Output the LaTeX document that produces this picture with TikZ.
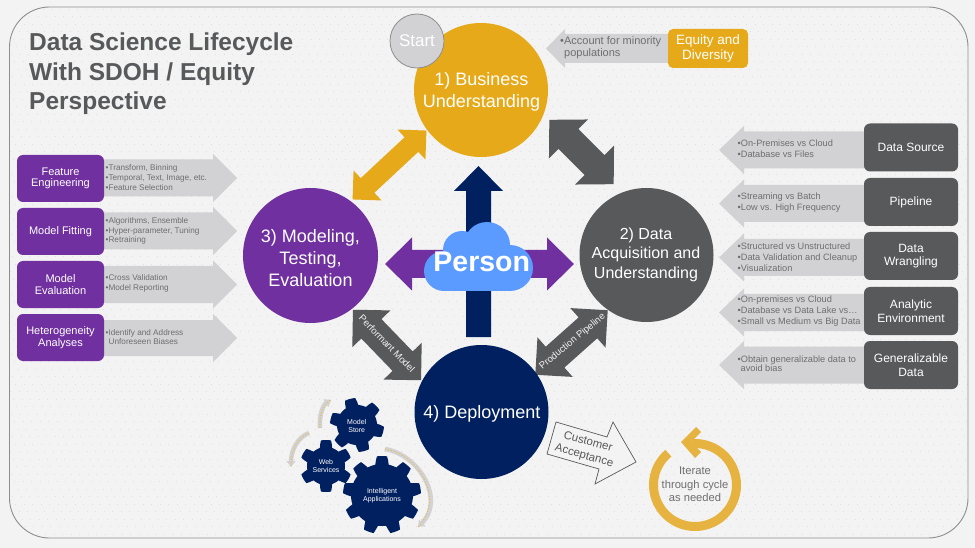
\documentclass[tikz,border=0pt]{standalone}
\usepackage{fontspec}
\setmainfont{Liberation Sans}
\usetikzlibrary{arrows.meta}
\definecolor{bgc}{HTML}{F3F3F3}
\definecolor{framec}{HTML}{8E8E92}
\definecolor{goldc}{HTML}{E6A919}
\definecolor{purc}{HTML}{7030A0}
\definecolor{grayc}{HTML}{58595B}
\definecolor{navyc}{HTML}{002060}
\definecolor{lightc}{HTML}{D2D1D3}
\definecolor{txtc}{HTML}{6E6E70}
\definecolor{cloudc}{HTML}{5B9BFF}
\definecolor{ringc}{HTML}{E6B340}
\newcommand{\fs}[2]{\fontsize{#1}{#2}\selectfont}
% colour, cx, cy, angle, length, shaft width, head width, head length
\newcommand{\dblarrow}[8]{\begin{scope}[shift={(#2,#3)},rotate=#4]
\pgfmathsetmacro{\hl}{#5/2}\pgfmathsetmacro{\sx}{\hl-#8}\pgfmathsetmacro{\sy}{#6/2}\pgfmathsetmacro{\hy}{#7/2}
\fill[#1] (\hl,0) -- (\sx,\hy) -- (\sx,\sy) -- (-\sx,\sy) -- (-\sx,\hy) -- (-\hl,0) -- (-\sx,-\hy) -- (-\sx,-\sy) -- (\sx,-\sy) -- (\sx,-\hy) -- cycle;
\end{scope}}
\newcommand{\onearrow}[8]{\begin{scope}[shift={(#2,#3)},rotate=#4]
\pgfmathsetmacro{\hl}{#5/2}\pgfmathsetmacro{\sx}{\hl-#8}\pgfmathsetmacro{\sy}{#6/2}\pgfmathsetmacro{\hy}{#7/2}
\fill[#1] (\hl,0) -- (\sx,\hy) -- (\sx,\sy) -- (-\hl,\sy) -- (-\hl,-\sy) -- (\sx,-\sy) -- (\sx,-\hy) -- cycle;
\end{scope}}
\tikzset{
  stage/.style={circle,inner sep=0pt,minimum size=134pt},
  stagetext/.style={text=white,align=center,inner sep=0pt,font=\fs{18}{22}},
  purbox/.style={rectangle,rounded corners=6pt,fill=purc,text=white,align=center,inner sep=0pt,minimum width=87pt,minimum height=47pt,font=\fs{11}{11.5}},
  graybox/.style={rectangle,rounded corners=6pt,fill=grayc,text=white,align=center,inner sep=0pt,minimum width=94pt,minimum height=48pt,font=\fs{12}{13.5}},
  lefttext/.style={anchor=west,align=left,inner sep=0pt,text=txtc,font=\fs{8.2}{9.8}},
  righttext/.style={anchor=west,align=left,inner sep=0pt,text=txtc,font=\fs{9.2}{11}},
  linktext/.style={text=bgc,inner sep=0pt,font=\fs{9.5}{10}},
  geartext/.style={text=white,align=center,inner sep=0pt,font=\fs{7}{8}},
  swoosh/.style={line width=4.5pt,draw=lightc,-{Triangle[length=6pt,width=9pt,fill=lightc]}},
  swooshdots/.style={line width=1pt,draw=goldc!80!white,dash pattern=on 1pt off 2pt},
  declare function={gr(\a,\N,\ri,\ro,\ph)=\ri+(\ro-\ri)*max(0,min(1,0.5+1.3*cos(\N*(\a-\ph))));}
}
\newcommand{\gearfill}[6]{\fill[navyc] plot[domain=0:360,samples=#3*16+1] ({#1+gr(\x,#3,#4,#5,#6)*cos(\x)},{#2+gr(\x,#3,#4,#5,#6)*sin(\x)}) -- cycle;}
\begin{document}
\begin{tikzpicture}[x=1pt,y=-1pt]
\useasboundingbox (0,0) rectangle (975,548);
\fill[bgc] (0,0) rectangle (975,548);
% frame and faint texture
\begin{scope}
\clip[rounded corners=40pt] (9.5,7) rectangle (968,538);
\foreach \r [evaluate=\r as \xs using {9+mod(\r*3,8)}, evaluate=\r as \ys using {9+7.5*\r}] in {0,...,70}
  \draw[line width=.9pt,draw=black!12,dash pattern=on .9pt off 7.6pt] (\xs,\ys) -- (968,\ys);
\end{scope}
\draw[framec,line width=.9pt,rounded corners=40pt] (9.5,7) rectangle (968,538);
% title
\node[anchor=north west,align=left,inner sep=0pt,text=grayc,font=\fs{24.5}{29.5}\bfseries] (title) at (29,33) {Data Science Lifecycle\\With SDOH / Equity\\Perspective};
% left arrows and boxes
\onearrow{lightc}{168.5}{178}{0}{137}{37}{48}{24}
\onearrow{lightc}{168.5}{231}{0}{137}{37}{48}{24}
\onearrow{lightc}{168.5}{284.5}{0}{137}{37}{48}{24}
\onearrow{lightc}{168.5}{338}{0}{137}{36}{48}{24}
\node[purbox] (fe) at (60.5,178.5) {Feature\\Engineering};
\node[purbox] (mf) at (60.5,231.5) {Model Fitting};
\node[purbox] (me) at (60.5,284.5) {Model\\Evaluation};
\node[purbox] (ha) at (60.5,337.5) {Heterogeneity\\Analyses};
\node[lefttext] (tfe) at (105.5,177.5) {•Transform, Binning\\•Temporal, Text, Image, etc.\\•Feature Selection};
\node[lefttext] (tmf) at (105.5,231) {•Algorithms, Ensemble\\•Hyper-parameter, Tuning\\•Retraining};
\node[lefttext] (tme) at (105.5,283) {•Cross Validation\\•Model Reporting};
\node[lefttext,font=\fs{8.2}{8.5}] (tha) at (105.5,337) {•Identify and Address\\\hspace{3pt}Unforeseen Biases};
% right arrows and boxes
\onearrow{lightc}{793.5}{150}{180}{149}{37}{48}{25}
\onearrow{lightc}{793.5}{203.5}{180}{149}{37}{48}{25}
\onearrow{lightc}{793.5}{257.5}{180}{149}{37}{48}{25}
\onearrow{lightc}{793.5}{312.5}{180}{149}{37}{48}{25}
\onearrow{lightc}{793.5}{365}{180}{149}{37}{48}{25}
\node[graybox] (ds) at (911,147.5) {Data Source};
\node[graybox] (pl) at (911,202) {Pipeline};
\node[graybox] (dw) at (911,256) {Data\\Wrangling};
\node[graybox] (ae) at (911,311) {Analytic\\Environment};
\node[graybox] (gd) at (911,365) {Generalizable\\Data};
\node[righttext] (tds) at (737.5,148.5) {•On-Premises vs Cloud\\•Database vs Files};
\node[righttext] (tpl) at (737.5,203) {•Streaming vs Batch\\•Low vs. High Frequency};
\node[righttext] (tdw) at (737.5,257) {•Structured vs Unstructured\\•Data Validation and Cleanup\\•Visualization};
\node[righttext] (tae) at (737.5,311.5) {•On-premises vs Cloud\\•Database vs Data Lake vs…\\•Small vs Medium vs Big Data};
\node[righttext,font=\fs{9.2}{9.5}] (tgd) at (737.5,363.5) {•Obtain generalizable data to\\\hspace{3pt}avoid bias};
% equity
\onearrow{lightc}{609}{48.5}{180}{126}{29}{39}{19}
\node[anchor=west,align=left,inner sep=0pt,text=txtc,font=\fs{11}{11.7}] (eqt) at (560,48) {•Account for minority\\\hspace{4pt}populations};
\node[rectangle,rounded corners=5pt,fill=goldc,text=white,align=center,inner sep=0pt,minimum width=80pt,minimum height=39pt,font=\fs{13.5}{15}] (eq) at (708,48.5) {Equity and\\Diversity};
% central arrows
\onearrow{navyc}{478.5}{251.5}{90}{171}{25}{49}{25}
\dblarrow{purc}{479.5}{264}{0}{189}{28}{53}{27}
\dblarrow{goldc}{389.5}{165}{43}{101}{20}{41}{20.5}
\dblarrow{grayc}{581.5}{152}{-45}{91}{28}{55}{27}
\dblarrow{grayc}{387}{345}{-46}{98}{28}{53}{26.5}
\dblarrow{grayc}{571.5}{342.5}{41.7}{97}{28}{53}{26.5}
% stages
\node[stage,fill=goldc] (s1) at (481,90) {};
\node[stage,fill=grayc] (s2) at (646.5,255) {};
\node[stage,fill=purc,minimum size=135pt] (s3) at (310.5,255.5) {};
\node[stage,fill=navyc] (s4) at (481.5,412) {};
\node[linktext,rotate=-46] (a34) at (387,343.5) {Performant Model};
\node[linktext,rotate=39.5] (a24) at (572.5,341.5) {Production Pipeline};
\node[stagetext] (s1t) at (481.5,92) {1) Business\\Understanding};
\node[stagetext,font=\fs{16}{19.5}] (s2t) at (646,254.5) {2) Data\\Acquisition and\\Understanding};
\node[stagetext] (s3t) at (310.5,258.5) {3) Modeling,\\Testing,\\Evaluation};
\node[stagetext] (s4t) at (482,413.5) {4) Deployment};
\node[circle,inner sep=0pt,minimum size=54pt,fill=lightc,draw=framec,line width=.8pt,text=white,font=\fs{17}{20}] (start) at (417,41) {Start};
% cloud
\fill[cloudc] (444,271) circle[radius=20];
\fill[cloudc] (462,250) circle[radius=19];
\fill[cloudc] (487,245) circle[radius=23];
\fill[cloudc] (510,268) circle[radius=23];
\fill[cloudc] (444,248) rectangle (510,291);
\node[text=white,inner sep=0pt,font=\fs{28.5}{30}\bfseries] (person) at (481.7,262) {Person};
% gears
\gearfill{357}{425}{6}{20}{27}{15}
\gearfill{326}{466}{6}{19}{26}{-90}
\gearfill{382}{495}{9}{31}{39}{-90}
\node[geartext] (g1) at (356.7,425.7) {Model\\Store};
\node[geartext] (g2) at (326,466) {Web\\Services};
\node[geartext] (g3) at (382,495.5) {Intelligent\\Applications};
\draw[swoosh] (385,449) .. controls (420,455) and (445,500) .. (418,527);
\draw[swooshdots] (385,449) .. controls (420,455) and (445,500) .. (418,527);
\draw[swoosh] (320,428) .. controls (319,415) and (323,405) .. (331,400);
\draw[swooshdots] (320,428) .. controls (319,415) and (323,405) .. (331,400);
\draw[swoosh] (309,433) .. controls (298,437) and (291,450) .. (291,467);
\draw[swooshdots] (309,433) .. controls (298,437) and (291,450) .. (291,467);
% customer acceptance
\draw[fill=bgc,draw=grayc,line width=.7pt] (556,422) -- (607,437) -- (613,422) -- (636,462) -- (595,484) -- (599,469) -- (547,454) -- cycle;
\node[rotate=-15.5,text=grayc,align=center,inner sep=0pt,font=\fs{11.5}{14.5}] (ca) at (586,449) {Customer\\Acceptance};
% iterate ring
\draw[ringc,line width=9pt] plot[domain=-95:230,samples=70] ({695+41.5*cos(\x)},{485+41.5*sin(\x)});
\fill[ringc] (681,442) -- (696,427) -- (701,432) -- (691,442) -- (701,452) -- (695,458) -- cycle;
\node[text=txtc,align=center,inner sep=0pt,font=\fs{11.2}{13.5}] (it) at (695,484.5) {Iterate\\through cycle\\as needed};
\end{tikzpicture}
\end{document}
